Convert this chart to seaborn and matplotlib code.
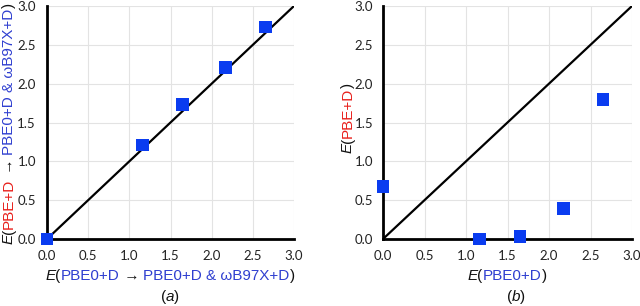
import matplotlib
matplotlib.use("Agg")
import matplotlib.pyplot as plt
import seaborn as sns
import pandas as pd

# Energies
e_pbe0 = [0.0, 1.16, 1.65, 2.17, 2.65]
e_mixed = [0.0, 1.21, 1.73, 2.21, 2.73]
e_pbe = [0.68, 0.0, 0.03, 0.39, 1.80]
parity = [0.0, 3.0]
ticks = [0.0, 0.5, 1.0, 1.5, 2.0, 2.5, 3.0]
tick_labels = [f"{t:.1f}" for t in ticks]

BLACK = "#111111"
RED = "#e8201c"
BLUE = "#2f3fd0"
MARKER = "#0a3cf0"
LABEL_FONT = ["Liberation Sans", "DejaVu Sans"]

sns.set_style("white")
plt.rcParams["font.family"] = ["Lato", "DejaVu Sans"]

fig = plt.figure(figsize=(6.4, 3.06), dpi=100)
ax_a = fig.add_axes([47 / 640, 67 / 306, 247 / 640, 233 / 306])
ax_b = fig.add_axes([383 / 640, 67 / 306, 249 / 640, 233 / 306])

df_a = pd.DataFrame({"x": e_pbe0, "y": e_mixed})
df_b = pd.DataFrame({"x": e_pbe0, "y": e_pbe})
df_line = pd.DataFrame({"x": parity, "y": parity})

for ax, df, pad in [(ax_a, df_a, 8.0), (ax_b, df_b, 7.0)]:
    ax.grid(True, color="#e3e3e3", linewidth=0.8)
    ax.set_axisbelow(True)
    sns.lineplot(data=df_line, x="x", y="y", ax=ax, color="black", linewidth=1.6)
    sns.scatterplot(data=df, x="x", y="y", ax=ax, marker="s", s=85,
                    color=MARKER, edgecolor="none", zorder=5, clip_on=False)
    ax.set_xlim(0, 3)
    ax.set_ylim(0, 3)
    ax.set_xticks(ticks)
    ax.set_yticks(ticks)
    ax.set_xticklabels(tick_labels)
    ax.set_yticklabels(tick_labels)
    ax.tick_params(length=0, labelsize=9.5, colors="#222222")
    ax.tick_params(axis="y", pad=pad)
    ax.tick_params(axis="x", pad=8)
    ax.set_xlabel("")
    ax.set_ylabel("")
    for side in ["top", "right"]:
        ax.spines[side].set_visible(False)
    for side in ["left", "bottom"]:
        ax.spines[side].set_linewidth(2.0)
        ax.spines[side].set_color("black")


def colored_label(pieces, x, y, rotation=0, center=True, size=11):
    """Draw multi-coloured text; x, y in figure pixels."""
    renderer = fig.canvas.get_renderer()
    texts = []
    widths = []
    for s, c, st in pieces:
        t = fig.text(0, 0, s, color=c, fontstyle=st, fontsize=size,
                     family=LABEL_FONT, ha="left", va="baseline",
                     rotation_mode="anchor", transform=None)
        widths.append(t.get_window_extent(renderer).width)
        t.set_rotation(rotation)
        texts.append(t)
    total = sum(widths)
    pos = -total / 2 if center else 0
    for t, w in zip(texts, widths):
        if rotation == 0:
            t.set_position((x + pos, y))
        else:
            t.set_position((x, y + pos))
        pos += w


H = 306
label_a_x = [("E", BLACK, "italic"), ("(", BLACK, "normal"),
             ("PBE0+D", BLUE, "normal"), (" \u2192 ", BLACK, "normal"),
             ("PBE0+D & \u03c9B97X+D", BLUE, "normal"), (")", BLACK, "normal")]
label_a_y = [("E", BLACK, "italic"), ("(", BLACK, "normal"),
             ("PBE+D", RED, "normal"), (" \u2192 ", BLACK, "normal"),
             ("PBE0+D & \u03c9B97X+D", BLUE, "normal"), (")", BLACK, "normal")]
label_b_x = [("E", BLACK, "italic"), ("(", BLACK, "normal"),
             ("PBE0+D", BLUE, "normal"), (")", BLACK, "normal")]
label_b_y = [("E", BLACK, "italic"), ("(", BLACK, "normal"),
             ("PBE+D", RED, "normal"), (")", BLACK, "normal")]

colored_label(label_a_x, 170, H - 280)
colored_label(label_a_y, 13, H - 244, rotation=90, center=False)
colored_label(label_b_x, 507, H - 280)
colored_label(label_b_y, 352, H - 118, rotation=90)

colored_label([("(", BLACK, "normal"), ("a", BLACK, "italic"), (")", BLACK, "normal")], 170, 5)
colored_label([("(", BLACK, "normal"), ("b", BLACK, "italic"), (")", BLACK, "normal")], 516, 5)

fig.savefig("out.png", dpi=100)
